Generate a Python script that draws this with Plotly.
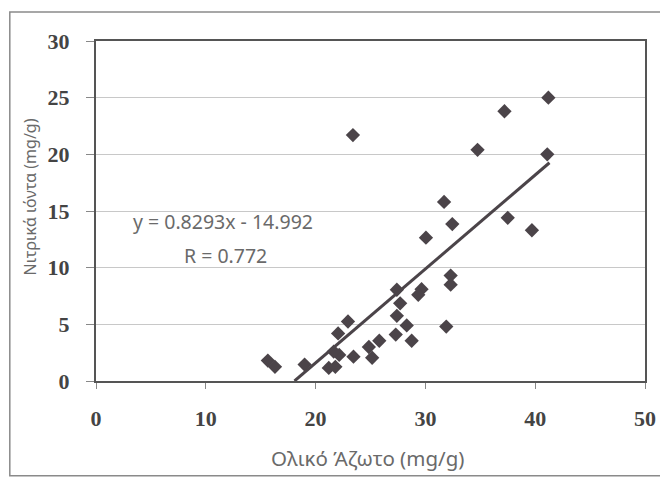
import plotly.graph_objects as go

# Data
total_nitrogen = [41.2, 37.2, 23.4, 34.75, 41.1, 31.7, 37.5, 32.45, 39.7, 30.05,
                  32.3, 32.3, 29.65, 29.35, 27.4, 27.7, 27.4, 28.3, 31.9, 27.3,
                  28.75, 22.95, 22.05, 25.8, 24.85, 25.15, 23.45, 22.15, 21.65, 19.0,
                  15.65, 16.3, 21.2, 21.8]
nitrate_ions = [25.0, 23.8, 21.7, 20.4, 20.0, 15.8, 14.4, 13.85, 13.3, 12.65,
                9.3, 8.5, 8.1, 7.6, 8.05, 6.85, 5.75, 4.9, 4.8, 4.1,
                3.55, 5.25, 4.2, 3.55, 3.0, 2.05, 2.15, 2.3, 2.6, 1.45,
                1.8, 1.25, 1.15, 1.25]

slope = 0.8293
intercept = -14.992
trend_x = [18.08, 41.3]
trend_y = [slope * v + intercept for v in trend_x]

x_ticks = [0, 10, 20, 30, 40, 50]
y_ticks = [0, 5, 10, 15, 20, 25, 30]

eq_text = "y = 0.8293x - 14.992"
r_text = "R = 0.772"
x_title = "Ολικό Άζωτο (mg/g)"
y_title = "Νιτρικά ιόντα (mg/g)"

mark_color = "#4b4449"
label_font = "Noto Sans"
label_color = "#6a6a6a"

fig = go.Figure()
fig.add_trace(go.Scatter(
    x=total_nitrogen, y=nitrate_ions, mode="markers",
    marker=dict(symbol="diamond", size=11, color=mark_color),
    showlegend=False, hoverinfo="x+y", cliponaxis=False))
fig.add_trace(go.Scatter(
    x=trend_x, y=trend_y, mode="lines",
    line=dict(color=mark_color, width=3),
    showlegend=False, hoverinfo="skip"))

tick_font = dict(family="Liberation Serif", size=22, color="#444444")

fig.update_layout(
    width=660, height=478,
    margin=dict(l=96, r=15, t=41, b=97, autoexpand=False),
    paper_bgcolor="white", plot_bgcolor="white",
    xaxis=dict(range=[0, 50], tickvals=x_ticks, ticktext=[f"<b>{v}</b>" for v in x_ticks],
               showgrid=False, zeroline=False, automargin=False,
               showline=True, mirror=True, linecolor="#555555", linewidth=2,
               ticks="outside", ticklen=6, tickcolor="#888888", tickwidth=1,
               tickfont=tick_font, ticklabelstandoff=11),
    yaxis=dict(range=[0, 30], tickvals=y_ticks, ticktext=[f"<b>{v}</b>" for v in y_ticks],
               showgrid=True, gridcolor="#c8c8c8", gridwidth=1, zeroline=False,
               automargin=False,
               showline=True, mirror=True, linecolor="#555555", linewidth=2,
               ticks="outside", ticklen=8, tickcolor="#888888", tickwidth=1,
               tickfont=tick_font, ticklabelstandoff=12),
    annotations=[
        dict(text=eq_text, x=0.232, y=0.47, xref="paper", yref="paper",
             showarrow=False, xanchor="center", yanchor="middle",
             font=dict(family=label_font, size=19.5, color=label_color)),
        dict(text=r_text, x=0.235, y=0.37, xref="paper", yref="paper",
             showarrow=False, xanchor="center", yanchor="middle",
             font=dict(family=label_font, size=19.5, color=label_color)),
        dict(text=x_title, x=0.495, y=-0.225, xref="paper", yref="paper",
             showarrow=False, xanchor="center", yanchor="middle",
             font=dict(family=label_font, size=20.5, color=label_color)),
        dict(text=y_title, x=-0.12, y=0.54, xref="paper", yref="paper",
             showarrow=False, xanchor="center", yanchor="middle", textangle=-90,
             font=dict(family=label_font, size=16, color=label_color)),
    ],
    shapes=[dict(type="rect", xref="paper", yref="paper",
                 x0=-0.157, x1=1.05, y0=-0.279, y1=1.085,
                 line=dict(color="#8a8a8a", width=1.5), layer="below")],
)

fig.write_html("out.html",
               config={"displayModeBar": False},
               post_script="document.body.style.margin='0';"
                           "document.body.style.overflow='hidden';")
